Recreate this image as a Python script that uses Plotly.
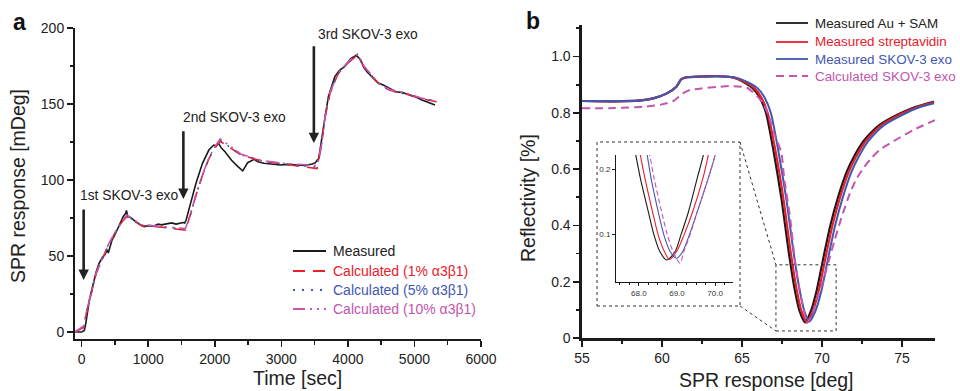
import plotly.graph_objects as go

# ---------------- Panel a data ----------------
meas_t = [-100, -50, 0, 40, 60, 116, 170, 214, 260, 310, 350, 383, 400, 456, 500, 553, 600, 626, 660, 674, 690,
          747, 800, 844, 900, 942, 1000, 1087, 1150, 1200, 1281, 1350, 1420, 1475, 1524, 1548, 1572, 1620, 1718,
          1815, 1911, 1984, 2020, 2057, 2100, 2154, 2252, 2348, 2421, 2494, 2591, 2650, 2737, 2850, 2980, 3100,
          3221, 3350, 3464, 3513, 3537, 3562, 3634, 3707, 3804, 3870, 3949, 4047, 4119, 4150, 4192, 4240, 4290,
          4386, 4450, 4531, 4620, 4726, 4820, 4920, 5000, 5114, 5200, 5309]
meas_v = [0, 0, 0, 1, 5, 21, 32, 39, 45, 49, 51, 54, 52, 60.5, 64, 69, 73, 76, 78, 80, 76,
          75, 73, 71.5, 70, 69.3, 70, 69.8, 71, 70.5, 71, 71.8, 71, 71.5, 72, 71.7, 74, 82, 97.8,
          111, 119.7, 123, 122.5, 124, 121, 118.6, 113, 108.8, 106, 111.4, 113.6, 112, 111, 110.5, 109.9, 110.3,
          110, 109.5, 110.5, 111.4, 113, 114, 135, 154.8, 168, 172, 174.5, 180, 181.8, 181, 179, 174, 171,
          167, 164, 162.5, 160.5, 158, 157.5, 156, 155, 152.6, 151, 149.3]

calc_t = [-100, 30, 70, 116, 214, 310, 400, 500, 600, 680, 750, 900, 1200, 1560,
          1640, 1718, 1815, 1911, 2000, 2082, 2397, 2688, 3028, 3537,
          3600, 3658, 3731, 3853, 3998, 4144, 4241, 4386, 4500, 4629, 4920, 5100, 5333]
calc1_v = [0, 3, 12, 21, 38, 48, 57, 65, 72, 76, 74, 70, 69, 67,
           78, 90, 103, 114, 121, 125.5, 116.4, 112.7, 110.5, 107.5,
           122, 141.6, 157, 170, 176.8, 182.2, 174.5, 167, 162, 159, 156, 153.5, 151.5]
calc5_v = [0, 3.5, 12.5, 21, 38, 48, 57, 65, 72, 76.5, 74.5, 70.3, 69.2, 67.5,
           78, 90, 103, 114, 121.5, 126, 116.6, 112.8, 110.6, 108.5,
           122, 141.6, 157, 170, 177, 182.5, 174.5, 167, 162, 159, 156, 153.7, 151.8]
calc10_v = [0, 4, 13, 21.5, 38.5, 48.5, 57.5, 65.5, 72.5, 77, 75, 70.6, 69.4, 68,
            78.5, 90.5, 103.5, 114.5, 122, 127, 117, 113, 111, 109.5,
            122.5, 142, 157.5, 170.5, 177.5, 183, 175, 167.5, 162.5, 159.5, 156.5, 154, 152]

a_xticks = [0, 1000, 2000, 3000, 4000, 5000, 6000]
a_yticks = [0, 50, 100, 150, 200]

# ---------------- Panel b data ----------------
au_x = [55, 57, 58.5, 59.5, 60.3, 60.9, 61.2, 61.5, 62.5, 63.5, 64.5, 65.2, 65.7, 66.1, 66.5, 66.96, 67.48,
        67.9, 68.3, 68.6, 68.94, 69.3, 69.67, 70.1, 70.5, 71.0, 71.54, 72.0, 72.6, 73.1, 73.6, 74.67, 75.7, 77.0]
au_y = [0.842, 0.841, 0.843, 0.852, 0.869, 0.893, 0.919, 0.926, 0.929, 0.930, 0.925, 0.906, 0.886, 0.855,
        0.800, 0.668, 0.490, 0.313, 0.170, 0.095, 0.055, 0.095, 0.170, 0.289, 0.395, 0.500, 0.590, 0.645,
        0.700, 0.732, 0.757, 0.792, 0.818, 0.840]
strep_x = [55, 57, 58.5, 59.5, 60.3, 60.9, 61.2, 61.5, 62.5, 63.5, 64.5, 65.3, 65.8, 66.2, 66.6, 67.08, 67.6,
           68.02, 68.42, 68.72, 69.05, 69.42, 69.8, 70.23, 70.63, 71.13, 71.67, 72.13, 72.73, 73.23, 73.73, 74.8,
           75.83, 77.0]
strep_y = [0.842, 0.841, 0.843, 0.852, 0.869, 0.893, 0.919, 0.926, 0.929, 0.930, 0.925, 0.906, 0.886, 0.855,
           0.800, 0.668, 0.490, 0.313, 0.170, 0.095, 0.057, 0.095, 0.170, 0.289, 0.395, 0.500, 0.590, 0.645,
           0.700, 0.732, 0.757, 0.792, 0.818, 0.838]
exo_x = [55, 57, 58.5, 59.5, 60.3, 60.9, 61.2, 61.5, 62.5, 63.5, 64.6, 65.45, 66.0, 66.4, 66.8, 67.26, 67.78,
         68.2, 68.6, 68.9, 69.2, 69.58, 69.97, 70.4, 70.8, 71.3, 71.84, 72.3, 72.9, 73.4, 73.9, 75.0, 76.0, 77.0]
exo_y = [0.842, 0.841, 0.843, 0.852, 0.869, 0.893, 0.919, 0.926, 0.929, 0.930, 0.925, 0.906, 0.886, 0.855,
         0.800, 0.668, 0.490, 0.313, 0.170, 0.095, 0.058, 0.095, 0.170, 0.289, 0.395, 0.500, 0.590, 0.645,
         0.700, 0.732, 0.757, 0.792, 0.818, 0.834]
calc_x = [55, 57, 59.0, 60.0, 60.7, 61.3, 61.75, 62.5, 63.5, 64.25, 65.3, 65.9, 66.3, 66.7, 67.0, 67.45, 67.65,
          68.0, 68.3, 68.6, 68.9, 69.05, 69.4, 69.7, 70.0, 70.4, 70.8, 71.2, 71.75, 72.15, 72.6, 73.1, 73.6,
          74.7, 75.7, 77.06]
calc_y = [0.816, 0.817, 0.822, 0.830, 0.842, 0.869, 0.881, 0.887, 0.892, 0.895, 0.889, 0.862, 0.835, 0.785,
          0.728, 0.660, 0.560, 0.430, 0.277, 0.170, 0.089, 0.053, 0.085, 0.140, 0.190, 0.270, 0.350, 0.425,
          0.515, 0.565, 0.605, 0.640, 0.668, 0.707, 0.739, 0.774]

b_xticks = [55, 60, 65, 70, 75]
b_yticks = [0, 0.2, 0.4, 0.6, 0.8, 1.0]
b_yticklabels = ["0", "0.2", "0.4", "0.6", "0.8", "1.0"]

# inset (zoom of the minimum)
in_au_x = [67.86, 67.92, 68.04, 68.25, 68.40, 68.55, 68.73, 68.95, 69.10, 69.30, 69.53, 69.69, 69.75]
in_au_y = [0.24, 0.2215, 0.186, 0.134, 0.098, 0.073, 0.060, 0.073, 0.098, 0.134, 0.186, 0.2215, 0.24]
in_strep_x = [67.98, 68.04, 68.16, 68.36, 68.51, 68.67, 68.80, 68.99, 69.18, 69.41, 69.68, 69.82, 69.88]
in_strep_y = [0.24, 0.2215, 0.186, 0.134, 0.098, 0.073, 0.061, 0.073, 0.098, 0.134, 0.186, 0.2215, 0.24]
in_exo_x = [68.16, 68.22, 68.32, 68.51, 68.66, 68.82, 68.99, 69.15, 69.32, 69.53, 69.82, 70.00, 70.06]
in_exo_y = [0.24, 0.2215, 0.186, 0.134, 0.098, 0.073, 0.0626, 0.073, 0.098, 0.134, 0.186, 0.2215, 0.24]
in_calc_x = [68.24, 68.29, 68.40, 68.60, 68.75, 68.90, 69.08, 69.18, 69.34, 69.53, 69.82, 70.00, 70.06]
in_calc_y = [0.24, 0.2215, 0.186, 0.134, 0.098, 0.073, 0.055, 0.073, 0.098, 0.134, 0.186, 0.2215, 0.24]
in_xticks = [68.0, 69.0, 70.0]
in_xticklabels = ["68.0", "69.0", "70.0"]
in_yticks = [0.1, 0.2]

# ---------------- styling ----------------
FONT = "Liberation Sans, Arial, Helvetica, sans-serif"
BLACK = "#1a1a1a"
RED = "#e8202a"
BLUE = "#3f58b0"
MAG = "#c455b0"
DASH_A1 = "12px,8px"
DASH_A5 = "2px,7px"
DASH_A10 = "12px,5px,2px,5px,2px,5px"
DASH_B = "8px,5px"

W, H = 960, 391


def px(x):
    return x / W


def py(y):
    return 1 - y / H


fig = go.Figure()

# panel a traces
fig.add_trace(go.Scatter(x=meas_t, y=meas_v, mode="lines", line=dict(color=BLACK, width=1.6),
                         xaxis="x", yaxis="y", name="Measured"))
fig.add_trace(go.Scatter(x=calc_t, y=calc1_v, mode="lines", line=dict(color=RED, width=1.6, dash=DASH_A1),
                         xaxis="x", yaxis="y", name="Calculated (1% α3β1)"))
fig.add_trace(go.Scatter(x=calc_t, y=calc5_v, mode="lines", line=dict(color=BLUE, width=1.6, dash=DASH_A5),
                         xaxis="x", yaxis="y", name="Calculated (5% α3β1)"))
fig.add_trace(go.Scatter(x=calc_t, y=calc10_v, mode="lines", line=dict(color=MAG, width=1.6, dash=DASH_A10),
                         xaxis="x", yaxis="y", name="Calculated (10% α3β1)"))

# panel b traces
sp = dict(shape="spline", smoothing=0.6)
fig.add_trace(go.Scatter(x=au_x, y=au_y, mode="lines", line=dict(color=BLACK, width=2.2, **sp),
                         xaxis="x2", yaxis="y2", name="Measured Au + SAM"))
fig.add_trace(go.Scatter(x=strep_x, y=strep_y, mode="lines", line=dict(color=RED, width=2.2, **sp),
                         xaxis="x2", yaxis="y2", name="Measured streptavidin"))
fig.add_trace(go.Scatter(x=exo_x, y=exo_y, mode="lines", line=dict(color=BLUE, width=2.0, **sp),
                         xaxis="x2", yaxis="y2", name="Measured SKOV-3 exo"))
fig.add_trace(go.Scatter(x=calc_x, y=calc_y, mode="lines", line=dict(color=MAG, width=2.0, dash=DASH_B, **sp),
                         xaxis="x2", yaxis="y2", name="Calculated SKOV-3 exo"))

# inset traces
sp_in = dict(shape="spline", smoothing=0.8)
fig.add_trace(go.Scatter(x=in_au_x, y=in_au_y, mode="lines", line=dict(color=BLACK, width=1.1, **sp_in),
                         xaxis="x3", yaxis="y3"))
fig.add_trace(go.Scatter(x=in_strep_x, y=in_strep_y, mode="lines", line=dict(color=RED, width=1.1, **sp_in),
                         xaxis="x3", yaxis="y3"))
fig.add_trace(go.Scatter(x=in_exo_x, y=in_exo_y, mode="lines", line=dict(color=BLUE, width=1.1, **sp_in),
                         xaxis="x3", yaxis="y3"))
fig.add_trace(go.Scatter(x=in_calc_x, y=in_calc_y, mode="lines",
                         line=dict(color=MAG, width=1.1, dash="5px,3px", **sp_in),
                         xaxis="x3", yaxis="y3"))

tickfont = dict(family=FONT, size=14, color="#222")
axis_common = dict(showline=True, linecolor=BLACK, ticks="outside", tickcolor=BLACK, showgrid=False,
                   zeroline=False, tickfont=tickfont, fixedrange=True, automargin=False)

fig.update_layout(
    width=W, height=H, autosize=False, margin=dict(l=0, r=0, t=0, b=0, pad=0, autoexpand=False),
    paper_bgcolor="white", plot_bgcolor="rgba(0,0,0,0)", showlegend=False, hovermode=False,
    font=dict(family=FONT, color="#222"),
    xaxis=dict(domain=[px(75), px(481)], range=[-100, 6000], tickvals=a_xticks, anchor="y",
               linewidth=2, ticklen=6, tickwidth=1.5,
               minor=dict(dtick=500, tick0=0, ticklen=3.5, tickwidth=1.5, tickcolor=BLACK, ticks="outside"),
               **axis_common),
    yaxis=dict(domain=[py(339), py(28)], range=[-4.6, 200], tickvals=a_yticks, anchor="x",
               linewidth=2, ticklen=6, tickwidth=1.5,
               minor=dict(dtick=25, tick0=0, ticklen=3.5, tickwidth=1.5, tickcolor=BLACK, ticks="outside"),
               **axis_common),
    xaxis2=dict(domain=[px(582), px(935)], range=[55, 77.06], tickvals=b_xticks, anchor="y2",
                linewidth=2.6, ticklen=6, tickwidth=1.8,
                minor=dict(dtick=2.5, tick0=55, ticklen=3.5, tickwidth=1.8, tickcolor=BLACK, ticks="outside"),
                **axis_common),
    yaxis2=dict(domain=[py(338), py(25)], range=[0, 1.112], tickvals=b_yticks, ticktext=b_yticklabels,
                anchor="x2", linewidth=2.6, ticklen=6, tickwidth=1.8,
                minor=dict(dtick=0.1, tick0=0, ticklen=3.5, tickwidth=1.8, tickcolor=BLACK, ticks="outside"),
                **axis_common),
    xaxis3=dict(domain=[px(616), px(733)], range=[67.4, 70.47], tickvals=in_xticks, ticktext=in_xticklabels,
                anchor="y3", showline=True, linecolor=BLACK, linewidth=1, ticks="outside", ticklen=3,
                tickwidth=1, tickcolor=BLACK, showgrid=False, zeroline=False, automargin=False,
                tickfont=dict(family=FONT, size=8, color="#333"), fixedrange=True,
                minor=dict(dtick=0.25, tick0=68, ticklen=2, tickwidth=1, tickcolor=BLACK, ticks="outside")),
    yaxis3=dict(domain=[py(282), py(155)], range=[0.026, 0.222], tickvals=in_yticks, anchor="x3",
                showline=True, linecolor=BLACK, linewidth=1, ticks="outside", ticklen=3, tickwidth=1,
                tickcolor=BLACK, showgrid=False, zeroline=False, automargin=False,
                tickfont=dict(family=FONT, size=8, color="#333"), fixedrange=True),
)

shapes = []
annotations = []

# panel labels
annotations.append(dict(text="<b>a</b>", x=px(19), y=py(22), xref="paper", yref="paper", showarrow=False,
                        font=dict(family=FONT, size=23, color="#111"), xanchor="center", yanchor="middle"))
annotations.append(dict(text="<b>b</b>", x=px(533), y=py(21), xref="paper", yref="paper", showarrow=False,
                        font=dict(family=FONT, size=23, color="#111"), xanchor="center", yanchor="middle"))

# axis titles
title_font = dict(family=FONT, size=19.5, color="#222")
annotations.append(dict(text="Time [sec]", x=px(297), y=py(378), xref="paper", yref="paper", showarrow=False,
                        font=title_font, xanchor="center", yanchor="middle"))
annotations.append(dict(text="SPR response [mDeg]", x=px(18), y=py(186), xref="paper", yref="paper",
                        showarrow=False, textangle=-90, font=title_font, xanchor="center", yanchor="middle"))
annotations.append(dict(text="SPR response [deg]", x=px(766), y=py(380), xref="paper", yref="paper",
                        showarrow=False, font=title_font, xanchor="center", yanchor="middle"))
annotations.append(dict(text="Reflectivity [%]", x=px(528), y=py(198), xref="paper", yref="paper",
                        showarrow=False, textangle=-90, font=title_font, xanchor="center", yanchor="middle"))

# injection arrows & labels (panel a)
inj_labels = ["1st SKOV-3 exo", "2nd SKOV-3 exo", "3rd SKOV-3 exo"]
inj_t = [30, 1528, 3489]
inj_tail = [81.6, 133, 189]
inj_tip = [34.2, 87.5, 124.3]
inj_text_pos = [(129, 195), (234, 118), (368, 35)]
for lab, t, tail, tip, (tx, ty) in zip(inj_labels, inj_t, inj_tail, inj_tip, inj_text_pos):
    annotations.append(dict(x=t, y=tip, ax=t, ay=tail, xref="x", yref="y", axref="x", ayref="y",
                            showarrow=True, arrowhead=2, arrowsize=0.8, arrowwidth=2.6, arrowcolor="#222", text=""))
    annotations.append(dict(text=lab, x=px(tx), y=py(ty), xref="paper", yref="paper", showarrow=False,
                            font=dict(family=FONT, size=13.8, color="#222"), xanchor="center", yanchor="middle"))

# legend panel a (manual)
leg_a_names = ["Measured", "Calculated (1% α3β1)", "Calculated (5% α3β1)", "Calculated (10% α3β1)"]
leg_a_colors = [BLACK, RED, BLUE, MAG]
leg_a_dash = ["solid", DASH_A1, DASH_A5, DASH_A10]
leg_a_y = [251, 271, 290, 309]
for nm, c, d, yy in zip(leg_a_names, leg_a_colors, leg_a_dash, leg_a_y):
    shapes.append(dict(type="line", xref="paper", yref="paper", x0=px(293), x1=px(326), y0=py(yy), y1=py(yy),
                       line=dict(color=c, width=1.8, dash=d)))
    annotations.append(dict(text=nm, x=px(331), y=py(yy), xref="paper", yref="paper", showarrow=False,
                            font=dict(family=FONT, size=14, color=c if c != BLACK else "#222"),
                            xanchor="left", yanchor="middle"))

# legend panel b (manual)
leg_b_names = ["Measured Au + SAM", "Measured streptavidin", "Measured SKOV-3 exo", "Calculated SKOV-3 exo"]
leg_b_colors = [BLACK, RED, BLUE, MAG]
leg_b_dash = ["solid", "solid", "solid", DASH_B]
leg_b_y = [23, 42, 59, 76]
for nm, c, d, yy in zip(leg_b_names, leg_b_colors, leg_b_dash, leg_b_y):
    shapes.append(dict(type="line", xref="paper", yref="paper", x0=px(776), x1=px(808), y0=py(yy), y1=py(yy),
                       line=dict(color=c, width=1.8, dash=d)))
    annotations.append(dict(text=nm, x=px(813), y=py(yy), xref="paper", yref="paper", showarrow=False,
                            font=dict(family=FONT, size=13.4, color=c if c != BLACK else "#222"),
                            xanchor="left", yanchor="middle"))

# inset frame, zoom box and connectors
dot = dict(color="#333", width=1, dash="dot")
shapes.append(dict(type="rect", xref="paper", yref="paper", x0=px(597), x1=px(740), y0=py(306), y1=py(142),
                   line=dot, fillcolor="rgba(0,0,0,0)", layer="below"))
shapes.append(dict(type="rect", xref="x2", yref="y2", x0=67.12, x1=70.88, y0=0.025, y1=0.26,
                   line=dot, fillcolor="rgba(0,0,0,0)"))
shapes.append(dict(type="line", xref="paper", yref="paper", x0=px(740), y0=py(142), x1=px(776), y1=py(265),
                   line=dot))
shapes.append(dict(type="line", xref="paper", yref="paper", x0=px(740), y0=py(306), x1=px(776), y1=py(331),
                   line=dot))

fig.update_layout(shapes=shapes, annotations=annotations)

fig.write_html("out.html", config={"displayModeBar": False, "staticPlot": True},
               post_script="document.body.style.margin='0';document.body.style.overflow='hidden';")
